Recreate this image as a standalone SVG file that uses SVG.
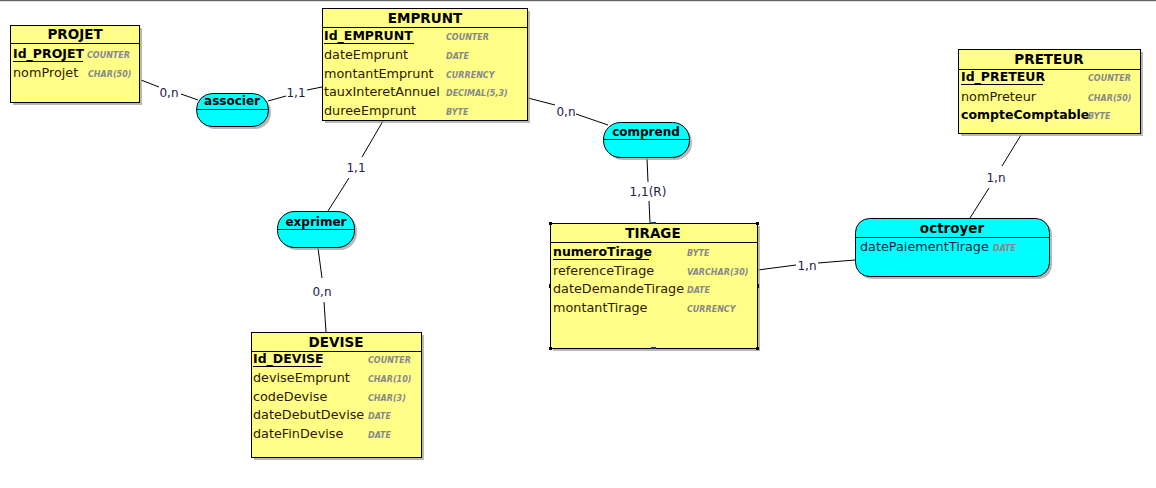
<svg xmlns="http://www.w3.org/2000/svg" width="1156" height="488" viewBox="0 0 1156 488">
<style>
.ent{fill:#ffff88;stroke:#000;stroke-width:1}
.asc{fill:#00ffff;stroke:#000;stroke-width:1}
.sh{fill:#9a9a9a;opacity:0.7}
.sep{stroke:#000;stroke-width:1}
.ttl{font-family:"DejaVu Sans",sans-serif;font-weight:bold;font-size:13.5px;fill:#000;text-anchor:middle}
.attl{font-family:"DejaVu Sans",sans-serif;font-weight:bold;font-size:12px;fill:#000;text-anchor:middle}
.att{font-family:"DejaVu Sans",sans-serif;font-size:12.8px;fill:#2e1800}
.key{font-family:"DejaVu Sans",sans-serif;font-size:12.5px;font-weight:bold;fill:#000}
.aat{font-family:"DejaVu Sans",sans-serif;font-size:12.8px;fill:#002a3a}
.typ{font-family:"DejaVu Sans",sans-serif;font-size:8px;font-weight:bold;font-style:italic;fill:#888}
.lnk{stroke:#000;stroke-width:1;fill:none}
.lbl{font-family:"DejaVu Sans",sans-serif;font-size:12px;fill:#1a2048;text-anchor:middle}
.hd{fill:#000}
</style>
<rect x="0" y="0" width="1156" height="488" fill="#fff"/>
<rect x="0" y="0" width="1156" height="1.2" fill="#666"/>

<g id="connectors">
  <line class="lnk" x1="141" y1="80" x2="159" y2="87"/>
  <text class="lbl" x="169" y="97">0,n</text>
  <line class="lnk" x1="181" y1="94" x2="198" y2="100"/>

  <line class="lnk" x1="268" y1="101" x2="286" y2="96"/>
  <text class="lbl" x="296" y="97">1,1</text>
  <line class="lnk" x1="307" y1="90" x2="322" y2="87"/>

  <line class="lnk" x1="528" y1="98" x2="555" y2="105"/>
  <text class="lbl" x="566" y="116">0,n</text>
  <line class="lnk" x1="576" y1="114" x2="608" y2="125"/>

  <line class="lnk" x1="647" y1="158" x2="648" y2="182"/>
  <text class="lbl" x="648" y="196">1,1(R)</text>
  <line class="lnk" x1="649" y1="201" x2="650" y2="223"/>

  <line class="lnk" x1="383" y1="121" x2="362" y2="157"/>
  <text class="lbl" x="356" y="172">1,1</text>
  <line class="lnk" x1="349" y1="178" x2="328" y2="211"/>

  <line class="lnk" x1="318" y1="248" x2="322" y2="278"/>
  <text class="lbl" x="322" y="296">0,n</text>
  <line class="lnk" x1="324" y1="302" x2="326" y2="332"/>

  <line class="lnk" x1="1021" y1="135" x2="1002" y2="166"/>
  <text class="lbl" x="996" y="182">1,n</text>
  <line class="lnk" x1="989" y1="188" x2="970" y2="218"/>

  <line class="lnk" x1="758" y1="270" x2="796" y2="265"/>
  <text class="lbl" x="807" y="270">1,n</text>
  <line class="lnk" x1="818" y1="263" x2="855" y2="260"/>
</g>

<g id="PROJET">
  <rect class="sh" x="13" y="28" width="129" height="77"/>
  <rect class="ent" x="10.5" y="25.5" width="129" height="77"/>
  <line class="sep" x1="10.5" y1="43.5" x2="139.5" y2="43.5"/>
  <text class="ttl" x="75" y="39">PROJET</text>
  <text class="key" x="13" y="58">Id_PROJET</text>
  <line class="sep" x1="13" y1="61.5" x2="83" y2="61.5"/>
  <text class="typ" x="87" y="58">COUNTER</text>
  <text class="att" x="13" y="77">nomProjet</text>
  <text class="typ" x="88" y="77">CHAR(50)</text>
</g>

<g id="EMPRUNT">
  <rect class="sh" x="325" y="11" width="205" height="112"/>
  <rect class="ent" x="322.5" y="8.5" width="205" height="112"/>
  <line class="sep" x1="322.5" y1="27.5" x2="527.5" y2="27.5"/>
  <text class="ttl" x="425" y="23">EMPRUNT</text>
  <text class="key" x="324" y="40">Id_EMPRUNT</text>
  <line class="sep" x1="324" y1="43.5" x2="414" y2="43.5"/>
  <text class="typ" x="446" y="40">COUNTER</text>
  <text class="att" x="324" y="59">dateEmprunt</text>
  <text class="typ" x="446" y="59">DATE</text>
  <text class="att" x="324" y="78">montantEmprunt</text>
  <text class="typ" x="446" y="78">CURRENCY</text>
  <text class="att" x="324" y="96">tauxInteretAnnuel</text>
  <text class="typ" x="446" y="96">DECIMAL(5,3)</text>
  <text class="att" x="324" y="115">dureeEmprunt</text>
  <text class="typ" x="446" y="115">BYTE</text>
</g>

<g id="PRETEUR">
  <rect class="sh" x="961" y="52" width="182" height="84"/>
  <rect class="ent" x="958.5" y="49.5" width="182" height="84"/>
  <line class="sep" x1="958.5" y1="69.5" x2="1140.5" y2="69.5"/>
  <text class="ttl" x="1049" y="64">PRETEUR</text>
  <text class="key" x="961" y="81">Id_PRETEUR</text>
  <line class="sep" x1="961" y1="84.5" x2="1043" y2="84.5"/>
  <text class="typ" x="1088" y="81">COUNTER</text>
  <text class="att" x="961" y="101">nomPreteur</text>
  <text class="typ" x="1088" y="101">CHAR(50)</text>
  <text class="key" x="961" y="119">compteComptable</text>
  <text class="typ" x="1088" y="119">BYTE</text>
</g>

<g id="TIRAGE">
  <rect class="sh" x="553" y="226" width="207" height="125"/>
  <rect class="ent" x="550.5" y="223.5" width="207" height="125"/>
  <line class="sep" x1="550.5" y1="242.5" x2="757.5" y2="242.5"/>
  <text class="ttl" x="653" y="238">TIRAGE</text>
  <text class="key" x="553" y="256">numeroTirage</text>
  <line class="sep" x1="553" y1="259.5" x2="649" y2="259.5"/>
  <text class="typ" x="687" y="256">BYTE</text>
  <text class="att" x="553" y="275">referenceTirage</text>
  <text class="typ" x="687" y="275">VARCHAR(30)</text>
  <text class="att" x="553" y="293">dateDemandeTirage</text>
  <text class="typ" x="687" y="293">DATE</text>
  <text class="att" x="553" y="312">montantTirage</text>
  <text class="typ" x="687" y="312">CURRENCY</text>
  <rect class="hd" x="549" y="222" width="3" height="3"/>
  <rect class="hd" x="756" y="222" width="3" height="3"/>
  <rect class="hd" x="549" y="347" width="3" height="3"/>
  <rect class="hd" x="756" y="347" width="3" height="3"/>
  <rect class="hd" x="549" y="284" width="2" height="4"/>
  <rect class="hd" x="757" y="284" width="2" height="4"/>
  <rect x="651" y="222" width="5" height="2" fill="#203080"/>
  <rect x="651" y="347" width="5" height="2" fill="#203080"/>
</g>

<g id="DEVISE">
  <rect class="sh" x="254" y="335" width="170" height="125"/>
  <rect class="ent" x="251.5" y="332.5" width="170" height="125"/>
  <line class="sep" x1="251.5" y1="351.5" x2="421.5" y2="351.5"/>
  <text class="ttl" x="336" y="347">DEVISE</text>
  <text class="key" x="253" y="363">Id_DEVISE</text>
  <line class="sep" x1="253" y1="366.5" x2="321" y2="366.5"/>
  <text class="typ" x="368" y="363">COUNTER</text>
  <text class="att" x="253" y="382">deviseEmprunt</text>
  <text class="typ" x="368" y="382">CHAR(10)</text>
  <text class="att" x="253" y="401">codeDevise</text>
  <text class="typ" x="368" y="401">CHAR(3)</text>
  <text class="att" x="253" y="419">dateDebutDevise</text>
  <text class="typ" x="368" y="419">DATE</text>
  <text class="att" x="253" y="438">dateFinDevise</text>
  <text class="typ" x="368" y="438">DATE</text>
</g>

<g id="associer">
  <rect class="sh" x="199" y="96" width="72" height="33" rx="16"/>
  <rect class="asc" x="196.5" y="93.5" width="72" height="33" rx="16"/>
  <line class="sep" x1="196.5" y1="109.5" x2="268.5" y2="109.5"/>
  <text class="attl" x="232" y="105">associer</text>
</g>

<g id="exprimer">
  <rect class="sh" x="280" y="214" width="77" height="36" rx="17"/>
  <rect class="asc" x="277.5" y="211.5" width="77" height="36" rx="17"/>
  <line class="sep" x1="277.5" y1="229.5" x2="354.5" y2="229.5"/>
  <text class="attl" x="316" y="226">exprimer</text>
</g>

<g id="comprend">
  <rect class="sh" x="606" y="125" width="86" height="35" rx="17"/>
  <rect class="asc" x="603.5" y="122.5" width="86" height="35" rx="17"/>
  <line class="sep" x1="603.5" y1="139.5" x2="689.5" y2="139.5"/>
  <text class="attl" x="646" y="136">comprend</text>
</g>

<g id="octroyer">
  <rect class="sh" x="858" y="221" width="194" height="58" rx="14"/>
  <rect class="asc" x="855.5" y="218.5" width="194" height="58" rx="14"/>
  <line class="sep" x1="855.5" y1="237.5" x2="1049.5" y2="237.5"/>
  <text class="ttl" x="952" y="233">octroyer</text>
  <text class="aat" x="860" y="251">datePaiementTirage</text>
  <text class="typ" x="993" y="251">DATE</text>
</g>
</svg>
